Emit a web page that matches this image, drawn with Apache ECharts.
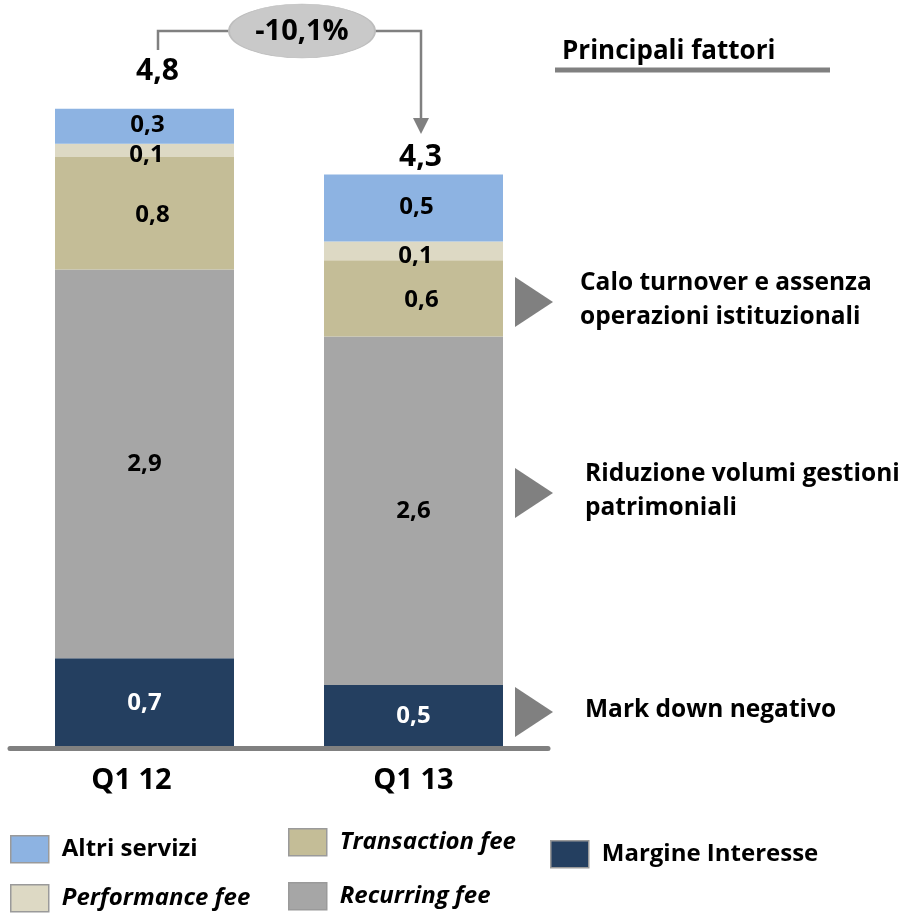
<!DOCTYPE html>
<html>
<head>
<meta charset="utf-8">
<script src="https://cdn.jsdelivr.net/npm/echarts@6/dist/echarts.min.js"></script>
<style>
  html, body { margin: 0; padding: 0; background: #fff; }
  #grafico { width: 906px; height: 916px; }
</style>
</head>
<body>
<div id="grafico"></div>
<script>
// dati (valori in mld)
var periodi = ['Q1 12', 'Q1 13'];
var margineInteresse = [0.67, 0.47];
var recurringFee = [2.9, 2.6];
var transactionFee = [0.84, 0.57];
var performanceFee = [0.1, 0.14];
var altriServizi = [0.26, 0.5];
var variazione = '-10,1%';

var fattori = ['Calo turnover e assenza\noperazioni istituzionali', 'Riduzione volumi gestioni\npatrimoniali', 'Mark down negativo'];

var FONT = '"Open Sans", Lato, sans-serif';
var dom = document.getElementById('grafico');
var myChart = echarts.init(dom);

function fmt(v) {
    return v.toFixed(1).replace('.', ',');
}

function serie(nome, dati, colore, coloreTesto, spostamento) {
    return {
        name: nome,
        type: 'bar',
        stack: 'tot',
        barWidth: 179,
        data: dati,
        itemStyle: { color: colore },
        label: {
            show: true,
            position: 'inside',
            offset: spostamento || [0, 0],
            color: coloreTesto,
            fontFamily: FONT,
            fontWeight: 'bold',
            fontSize: 24,
            formatter: function (p) { return fmt(p.value); }
        }
    };
}

function voceLegenda(nome, left, top, corsivo) {
    return {
        data: [nome],
        left: left,
        top: top,
        orient: 'horizontal',
        itemWidth: 38,
        itemHeight: 27,
        icon: 'rect',
        itemStyle: { borderColor: '#9a9a9a', borderWidth: 1.5 },
        textStyle: {
            fontFamily: FONT,
            fontWeight: 'bold',
            fontStyle: corsivo ? 'italic' : 'normal',
            fontSize: 24,
            color: '#000',
            padding: [0, 0, 0, 8]
        },
        selectedMode: false
    };
}

var option = {
    animation: false,
    backgroundColor: '#fff',
    grid: { left: 10, right: 358, top: 11, bottom: 168 },
    xAxis: {
        type: 'category',
        data: periodi.map(function (p, i) {
            return i === 0 ? { value: p, textStyle: { padding: [0, 26, 0, 0] } } : p;
        }),
        z: 5,
        axisLine: { lineStyle: { color: '#808080', width: 5 } },
        axisTick: { show: false },
        axisLabel: { margin: 18, fontFamily: FONT, fontWeight: 'bold', fontSize: 29, color: '#000' }
    },
    yAxis: {
        type: 'value',
        min: 0,
        max: 5.5,
        show: false,
        splitLine: { show: false }
    },
    legend: [
        voceLegenda('Altri servizi', 5, 830, false),
        voceLegenda('Transaction fee', 283, 823, true),
        voceLegenda('Margine Interesse', 545, 835, false),
        voceLegenda('Performance fee', 5, 879, true),
        voceLegenda('Recurring fee', 283, 877, true)
    ],
    series: [
        serie('Margine Interesse', margineInteresse, '#243F60', '#fff'),
        serie('Recurring fee', recurringFee, '#A6A6A6', '#000'),
        serie('Transaction fee', transactionFee, '#C4BD97', '#000', [8, 2]),
        serie('Performance fee', performanceFee, '#DDD9C4', '#000', [2, 5]),
        serie('Altri servizi', altriServizi, '#8DB3E2', '#000', [3, -1])
    ]
};

myChart.setOption(option);

// totali sopra le barre
var totali = periodi.map(function (p, i) {
    return margineInteresse[i] + recurringFee[i] + transactionFee[i] + performanceFee[i] + altriServizi[i];
});
var spostamenti = [[13, -37], [7, -17]];
var grafiche = [];
totali.forEach(function (t, i) {
    var pt = myChart.convertToPixel({ gridIndex: 0 }, [i, t]);
    grafiche.push({
        type: 'text',
        x: pt[0] + spostamenti[i][0],
        y: pt[1] + spostamenti[i][1],
        style: { text: fmt(t), fontFamily: FONT, fontWeight: 'bold', fontSize: 30, fill: '#000', align: 'center', verticalAlign: 'middle' }
    });
});

// freccia di variazione
grafiche.push(
    { type: 'polyline', shape: { points: [[158, 50], [158, 31], [232, 31]] }, style: { stroke: '#808080', lineWidth: 2.5, fill: null } },
    { type: 'polyline', shape: { points: [[372, 31], [421, 31], [421, 120]] }, style: { stroke: '#808080', lineWidth: 2.5, fill: null } },
    { type: 'polygon', shape: { points: [[413, 118], [429, 118], [421, 134]] }, style: { fill: '#808080' } },
    { type: 'circle', x: 302, y: 31, scaleY: 27 / 73, shape: { cx: 0, cy: 0, r: 73 }, style: { fill: '#C9C9C9', stroke: '#BDBDBD', lineWidth: 2 } },
    { type: 'text', x: 302, y: 32, style: { text: variazione, fontFamily: FONT, fontWeight: 'bold', fontSize: 29, fill: '#000', align: 'center', verticalAlign: 'middle' } }
);

// principali fattori
grafiche.push(
    { type: 'text', x: 562, y: 52, style: { text: 'Principali fattori', fontFamily: FONT, fontWeight: 'bold', fontSize: 26, fill: '#000', verticalAlign: 'middle' } },
    { type: 'line', shape: { x1: 555, y1: 70, x2: 830, y2: 70 }, style: { stroke: '#808080', lineWidth: 5 } }
);
var yTriangoli = [302, 493, 712];
var xTesti = [580, 585, 585];
fattori.forEach(function (f, i) {
    var y = yTriangoli[i];
    grafiche.push(
        { type: 'polygon', shape: { points: [[515, y - 25], [553, y], [515, y + 25]] }, style: { fill: '#808080' } },
        { type: 'text', x: xTesti[i], y: y - 2, style: { text: f, fontFamily: FONT, fontWeight: 'bold', fontSize: 24.5, lineHeight: 34, fill: '#000', verticalAlign: 'middle' } }
    );
});

myChart.setOption({ graphic: grafiche });
</script>
</body>
</html>
